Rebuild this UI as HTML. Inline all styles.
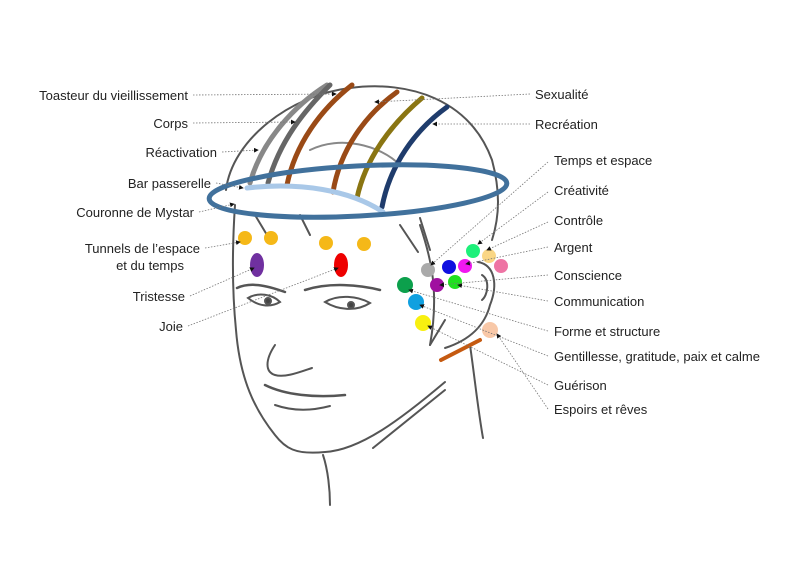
<!DOCTYPE html>
<html><head><meta charset="utf-8"><style>
html,body{margin:0;padding:0;background:#fff;}
svg{display:block}
text{font-family:"Liberation Sans",sans-serif;font-size:13px;fill:#222}
</style></head><body>
<svg width="800" height="563" viewBox="0 0 800 563">
<defs><marker id="a" markerWidth="6" markerHeight="6" refX="5" refY="3" orient="auto"><path d="M0,0 L6,3 L0,6z" fill="#111"/></marker></defs>
<g fill="none" stroke="#555" stroke-width="2" stroke-linecap="round">
<path d="M226,190 C232,140 290,95 350,88 C410,80 470,100 492,160 C500,190 500,215 492,240"/>
<path d="M235,205 C232,250 232,290 236,330 C240,380 255,410 275,435 C285,448 295,455 325,452 C360,450 400,420 445,382"/>
<path d="M323,455 C328,470 330,490 330,505"/>
<path d="M373,448 C395,430 420,410 445,390"/>
<path d="M470,345 C475,380 478,410 483,438"/>
<path d="M478,262 C495,265 498,285 490,305 C485,325 470,340 445,348"/>
<path d="M482,275 C490,280 488,295 482,300"/>
<path d="M420,225 C430,255 440,290 430,345"/>
<path d="M237,288 C250,282 265,285 285,292" stroke-width="2.5"/>
<path d="M305,290 C330,282 360,285 380,290" stroke-width="2.5"/>
<path d="M248,298 C258,292 272,294 280,302 C270,308 258,306 248,298z"/>
<path d="M325,302 C338,294 358,296 370,303 C356,312 338,310 325,302z"/>
<circle cx="268" cy="301" r="3" fill="#444"/><circle cx="351" cy="305" r="3" fill="#444"/>
<path d="M275,345 C265,360 265,372 275,375 C285,378 300,372 312,368"/>
<path d="M265,385 C285,395 315,398 345,395" stroke-width="2.5"/>
<path d="M275,405 C295,412 315,410 330,406"/>
<path d="M255,215 L270,240 M300,215 L310,235 M400,225 L418,252 M420,218 L430,250 M445,320 L430,345"/>
<path d="M310,150 C340,135 380,145 400,165" stroke="#888"/>
</g>
<g fill="none" stroke-width="5" stroke-linecap="round">
<path d="M250,183 C262,140 295,105 327,85" stroke="#888"/>
<path d="M268,183 C280,140 305,110 330,85" stroke="#666"/>
<path d="M287,185 C295,145 320,110 352,85" stroke="#9a4a16"/>
<path d="M333,192 C340,150 365,115 397,92" stroke="#9a4a16"/>
<path d="M357,198 C365,160 390,125 422,98" stroke="#8a7512"/>
<path d="M382,207 C390,165 415,130 447,107" stroke="#1f3c6c"/>
<path d="M247,188 C300,182 350,190 383,212" stroke="#a9c8e8"/>
<ellipse cx="358" cy="191" rx="149" ry="25" transform="rotate(-3 358 191)" stroke="#41719c"/>
<path d="M441,360 L480,340" stroke="#c55a11" stroke-width="4"/>
</g>
<g>
<circle cx="245" cy="238" r="7" fill="#f5b818"/><circle cx="271" cy="238" r="7" fill="#f5b818"/>
<circle cx="326" cy="243" r="7" fill="#f5b818"/><circle cx="364" cy="244" r="7" fill="#f5b818"/>
<ellipse cx="257" cy="265" rx="7" ry="12" fill="#7030a0"/><ellipse cx="341" cy="265" rx="7" ry="12" fill="#e00"/>
<circle cx="473" cy="251" r="7" fill="#1ef07a"/><circle cx="489" cy="256" r="7" fill="#fad685"/>
<circle cx="428" cy="270" r="7" fill="#aaa"/><circle cx="449" cy="267" r="7" fill="#1010e0"/>
<circle cx="465" cy="266" r="7" fill="#f018f0"/><circle cx="501" cy="266" r="7" fill="#ee74a4"/>
<circle cx="405" cy="285" r="8" fill="#0ca04c"/><circle cx="437" cy="285" r="7" fill="#a010a0"/>
<circle cx="455" cy="282" r="7" fill="#20e020"/><circle cx="416" cy="302" r="8" fill="#10a0e0"/>
<circle cx="423" cy="323" r="8" fill="#f8f010"/><circle cx="490" cy="330" r="8" fill="#f8c8a8"/>
</g>
<g stroke="#777" stroke-width="0.8" stroke-dasharray="1.5,1.5" fill="none" marker-end="url(#a)">
<path d="M193,95 L336,94"/><path d="M193,123 L295,122"/><path d="M222,152 L258,150"/>
<path d="M216,183 L243,188"/><path d="M199,212 L234,204"/><path d="M205,248 L240,242"/>
<path d="M190,296 L254,268"/><path d="M188,326 L338,268"/>
<path d="M530,94 L375,102"/><path d="M530,124 L433,124"/>
<path d="M548,162 L431,265"/><path d="M548,192 L478,244"/><path d="M548,222 L487,250"/>
<path d="M548,247 L466,264"/><path d="M548,275 L440,285"/><path d="M548,301 L458,285"/>
<path d="M548,331 L409,290"/><path d="M548,356 L420,305"/><path d="M548,385 L428,326"/>
<path d="M548,409 L497,334"/>
</g>
<g text-anchor="end">
<text x="188" y="100">Toasteur du vieillissement</text>
<text x="188" y="128">Corps</text>
<text x="217" y="157">Réactivation</text>
<text x="211" y="188">Bar passerelle</text>
<text x="194" y="217">Couronne de Mystar</text>
<text x="200" y="253">Tunnels de l’espace</text>
<text x="184" y="270">et du temps</text>
<text x="185" y="301">Tristesse</text>
<text x="183" y="331">Joie</text>
</g>
<text x="535" y="99">Sexualité</text>
<text x="535" y="129">Recréation</text>
<text x="554" y="165">Temps et espace</text>
<text x="554" y="195">Créativité</text>
<text x="554" y="225">Contrôle</text>
<text x="554" y="252">Argent</text>
<text x="554" y="280">Conscience</text>
<text x="554" y="306">Communication</text>
<text x="554" y="336">Forme et structure</text>
<text x="554" y="361">Gentillesse, gratitude, paix et calme</text>
<text x="554" y="390">Guérison</text>
<text x="554" y="414">Espoirs et rêves</text>
</svg>
</body></html>
